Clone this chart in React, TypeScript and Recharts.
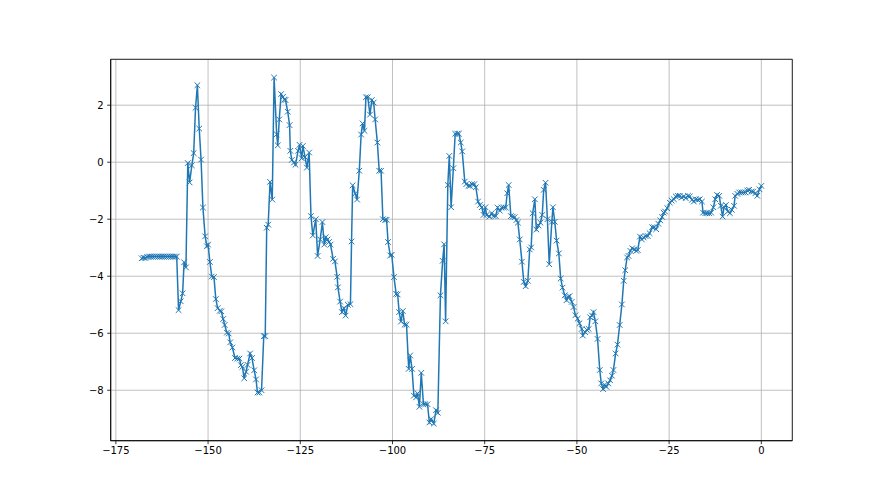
import React from "react";
import { LineChart, Line, XAxis, YAxis, CartesianGrid, ReferenceArea } from "recharts";

// [x, y] readings, left to right
const plateau: [number, number][] = [
  [-168.0, -3.37], [-167.5, -3.35], [-167.0, -3.36], [-166.5, -3.32], [-166.0, -3.31],
  [-165.5, -3.31], [-165.0, -3.31], [-164.5, -3.31], [-164.0, -3.31], [-163.5, -3.31],
  [-163.0, -3.31], [-162.5, -3.31], [-162.0, -3.31], [-161.5, -3.31], [-161.0, -3.31],
  [-160.5, -3.31], [-160.0, -3.31], [-159.5, -3.31], [-159.0, -3.31], [-158.5, -3.31],
];

const firstSwing: [number, number][] = [
  [-158.0, -5.19], [-157.4, -4.88], [-156.9, -4.6], [-156.5, -3.51], [-156.0, -3.69],
  [-155.5, -0.03], [-155.0, -0.71], [-154.4, -0.11], [-153.9, 0.32], [-153.4, 1.91],
  [-152.9, 2.7], [-152.4, 1.18], [-151.9, 0.09], [-151.4, -1.59], [-150.8, -2.6],
  [-150.3, -2.95], [-150.0, -2.89], [-149.5, -3.5], [-149.0, -4.01], [-148.4, -4.03],
  [-147.9, -4.8], [-147.4, -5.12], [-146.8, -5.21], [-146.4, -5.23], [-145.9, -5.5],
  [-145.5, -5.71], [-144.9, -5.98], [-144.4, -6.01], [-144.0, -6.32], [-143.4, -6.5],
  [-142.7, -6.87], [-142.1, -6.89], [-141.5, -6.89], [-141.1, -7.12], [-140.7, -7.18],
  [-140.2, -7.58], [-139.7, -7.35], [-139.3, -7.11], [-138.6, -6.71], [-138.1, -6.87],
  [-137.5, -7.3], [-137.0, -7.62], [-136.6, -8.08], [-136.1, -8.08], [-135.5, -8.0],
];

const secondSwing: [number, number][] = [
  [-134.9, -6.1], [-134.5, -6.1], [-134.1, -2.3], [-133.7, -2.19], [-133.2, -0.69],
  [-132.6, -1.31], [-132.1, 2.97], [-131.4, 0.98], [-131.1, 0.59], [-130.7, 1.5],
  [-130.2, 2.39], [-129.7, 2.29], [-129.3, 2.2], [-129.0, 2.18], [-128.4, 1.77],
  [-127.9, 1.3], [-127.7, 0.4], [-127.3, 0.08], [-126.7, -0.01], [-126.3, -0.09],
  [-125.6, 0.4], [-125.2, 0.61], [-124.6, 0.14], [-124.3, 0.57], [-123.7, 0.18],
  [-123.2, -0.19], [-122.6, 0.34], [-122.1, -1.89], [-121.6, -2.57], [-120.8, -2.0],
  [-120.3, -3.29], [-119.6, -2.71], [-119.0, -2.1], [-118.5, -2.89], [-118.1, -2.63],
  [-117.6, -2.71], [-117.2, -2.8], [-116.8, -2.89], [-116.1, -3.39], [-115.6, -3.48],
  [-115.0, -4.02], [-114.8, -4.39], [-114.2, -4.89], [-113.7, -5.26], [-113.2, -5.12],
  [-112.7, -5.38], [-112.1, -5.0], [-111.4, -4.98],
];

const thirdSwing: [number, number][] = [
  [-111.1, -2.78], [-110.8, -0.81], [-110.1, -1.1], [-109.6, -1.31], [-109.0, -0.3],
  [-108.5, 0.97], [-108.1, 1.36], [-107.6, 1.1], [-107.2, 2.28], [-106.7, 2.28],
  [-106.1, 1.67], [-105.6, 2.18], [-105.1, 2.09], [-104.7, 1.5], [-104.1, 0.69],
  [-103.6, -0.3], [-103.1, -0.3], [-102.6, -2.0], [-102.0, -2.02], [-101.6, -2.02],
  [-101.2, -2.8], [-100.6, -3.27], [-100.2, -3.25], [-99.6, -4.03], [-99.0, -4.62],
  [-98.6, -4.64], [-98.2, -5.26], [-97.7, -5.59], [-97.2, -5.22], [-96.7, -5.7],
  [-96.2, -5.7], [-95.6, -7.25], [-95.2, -6.78], [-94.7, -7.25], [-94.2, -8.19],
  [-93.6, -8.25], [-93.2, -8.11], [-92.7, -8.58], [-92.2, -7.39], [-91.6, -8.49],
  [-91.1, -8.49], [-90.5, -8.49], [-90.0, -9.13], [-89.5, -9.01], [-88.8, -9.17],
  [-88.2, -8.7], [-87.7, -8.79],
];

const fourthSwing: [number, number][] = [
  [-87.0, -4.67], [-86.4, -3.46], [-86.0, -2.88], [-85.6, -5.58], [-85.0, -0.8],
  [-84.6, 0.22], [-84.1, -1.58], [-83.5, -0.21], [-83.0, 1.0], [-82.4, 1.0],
  [-82.0, 1.0], [-81.5, 0.69], [-81.1, 0.38], [-80.4, -0.68], [-80.0, -0.77],
  [-79.4, -0.83], [-79.0, -0.83], [-78.4, -0.77], [-77.8, -0.77], [-77.4, -0.88],
  [-76.8, -1.38], [-76.3, -1.5], [-75.8, -1.58], [-75.3, -1.85], [-74.8, -1.58],
  [-74.5, -1.85], [-73.7, -1.91], [-73.1, -1.79], [-72.6, -1.89], [-72.0, -1.89],
  [-71.5, -1.59], [-70.9, -1.7], [-70.4, -1.59], [-69.8, -1.59], [-69.3, -1.59],
  [-68.9, -1.09], [-68.5, -0.8], [-67.9, -1.89], [-67.4, -1.91], [-66.9, -1.93],
  [-66.4, -2.03], [-66.0, -2.12], [-65.5, -2.71], [-64.9, -3.49], [-64.4, -4.2],
  [-63.9, -4.35], [-63.3, -4.16], [-62.8, -3.06], [-62.4, -2.99], [-62.0, -1.79],
  [-61.4, -1.3], [-61.0, -2.36], [-60.4, -2.22], [-59.9, -2.12], [-59.4, -1.85],
  [-59.0, -0.97], [-58.5, -0.72], [-58.0, -2.0], [-57.5, -3.58], [-56.8, -2.09],
  [-56.5, -1.58], [-56.0, -2.09], [-55.5, -2.75], [-54.9, -3.2], [-54.4, -4.08],
  [-53.9, -4.4], [-53.3, -4.67], [-52.8, -4.84], [-52.4, -4.72], [-52.0, -4.7],
  [-51.4, -4.9], [-50.9, -5.08], [-50.4, -5.37], [-49.8, -5.49],
];

const lastDip: [number, number][] = [
  [-49.3, -5.65], [-48.7, -5.85], [-48.4, -6.08], [-47.8, -5.96], [-47.3, -5.88],
  [-46.8, -5.85], [-46.4, -5.44], [-45.9, -5.38], [-45.5, -5.26], [-45.0, -5.58],
  [-44.4, -6.2], [-43.8, -7.29], [-43.4, -7.76], [-42.9, -7.96], [-42.5, -7.81],
  [-42.0, -7.88], [-41.5, -7.76], [-41.0, -7.65], [-40.5, -7.49], [-40.1, -7.29],
  [-39.5, -6.71], [-39.0, -6.4], [-38.4, -5.71], [-37.8, -4.99], [-37.3, -4.16],
  [-36.9, -3.79], [-36.4, -3.34], [-36.0, -3.29], [-35.5, -3.11], [-35.0, -3.02],
  [-34.4, -3.06], [-33.9, -3.11], [-33.5, -3.08], [-32.9, -2.61], [-32.4, -2.71],
  [-31.9, -2.64], [-31.4, -2.59], [-30.8, -2.59], [-30.3, -2.49], [-29.6, -2.28],
  [-29.1, -2.28], [-28.5, -2.35], [-27.9, -2.16], [-27.4, -2.04], [-26.9, -1.92],
  [-26.5, -1.77],
];

const recovery: [number, number][] = [
  [-26.1, -1.73], [-25.5, -1.61], [-24.8, -1.42], [-24.3, -1.35], [-23.7, -1.3],
  [-23.2, -1.2], [-22.6, -1.18], [-22.1, -1.18], [-21.6, -1.24], [-21.0, -1.2],
  [-20.5, -1.26], [-19.9, -1.18], [-19.4, -1.2], [-18.8, -1.32], [-18.3, -1.38],
  [-17.8, -1.3], [-17.2, -1.32], [-16.7, -1.3], [-16.1, -1.38], [-15.8, -1.77],
  [-15.2, -1.79], [-14.7, -1.79], [-14.1, -1.79], [-13.6, -1.77], [-13.0, -1.58],
  [-12.5, -1.3], [-12.0, -1.15], [-11.4, -1.18], [-11.0, -1.53], [-10.5, -1.91],
  [-10.1, -1.58], [-9.6, -1.5], [-9.1, -1.73], [-8.5, -1.79], [-8.0, -1.67],
  [-7.4, -1.53], [-7.1, -1.18], [-6.5, -1.11], [-6.0, -1.06], [-5.4, -1.06],
  [-4.9, -1.06], [-4.3, -1.06], [-3.8, -0.99], [-3.3, -0.97], [-2.7, -1.03],
  [-2.2, -1.03], [-1.6, -1.09], [-1.1, -1.18], [-0.5, -0.95], [0.0, -0.83],
];

const xTicks = [-175, -150, -125, -100, -75, -50, -25, 0];
const yTicks = [-8, -6, -4, -2, 0, 2];
const xDomain: [number, number] = [-176.4, 8.4];
const yDomain: [number, number] = [-9.77, 3.61];

const data = [...plateau, ...firstSwing, ...secondSwing, ...thirdSwing, ...fourthSwing, ...lastDip, ...recovery].map(
  ([x, y]) => ({ x, y })
);

const BLUE = "#1f77b4";
const fmt = (v: number) => (v < 0 ? "\u2212" + Math.abs(v) : String(v));

const XMarker = (props: any) => {
  const { cx, cy, index } = props;
  if (cx == null || cy == null) return <g key={`m${index}`} />;
  const s = 2.8;
  return (
    <path
      key={`m${index}`}
      d={`M${cx - s},${cy - s}L${cx + s},${cy + s}M${cx - s},${cy + s}L${cx + s},${cy - s}`}
      stroke={BLUE}
      strokeWidth={1}
      fill="none"
    />
  );
};

const tickStyle = { fontFamily: "DejaVu Sans", fontSize: 10, fill: "#000" };

export default function App() {
  return (
    <div style={{ width: 872, height: 487 }}>
      <LineChart
        width={872}
        height={487}
        data={data}
        margin={{ top: 51.3, right: 87.7, bottom: 24.3, left: 62.7 }}
      >
        <CartesianGrid stroke="#b0b0b0" strokeWidth={0.8} />
        <XAxis
          dataKey="x"
          type="number"
          domain={xDomain}
          ticks={xTicks}
          allowDataOverflow
          tickFormatter={fmt}
          height={30}
          tickSize={3.5}
          tickMargin={3}
          tick={tickStyle}
          axisLine={{ stroke: "#000", strokeWidth: 0.8 }}
          tickLine={{ stroke: "#000", strokeWidth: 0.8 }}
        />
        <YAxis
          type="number"
          domain={yDomain}
          ticks={yTicks}
          allowDataOverflow
          tickFormatter={fmt}
          width={40}
          tickSize={3.5}
          tickMargin={3.5}
          tick={tickStyle}
          axisLine={{ stroke: "#000", strokeWidth: 0.8 }}
          tickLine={{ stroke: "#000", strokeWidth: 0.8 }}
        />
        <ReferenceArea
          x1={xDomain[0]}
          x2={xDomain[1]}
          y1={yDomain[0]}
          y2={yDomain[1]}
          fill="none"
          fillOpacity={0}
          stroke="#000"
          strokeWidth={0.8}
        />
        <Line
          dataKey="y"
          stroke={BLUE}
          strokeWidth={1.5}
          dot={XMarker}
          activeDot={false}
          isAnimationActive={false}
        />
      </LineChart>
    </div>
  );
}
